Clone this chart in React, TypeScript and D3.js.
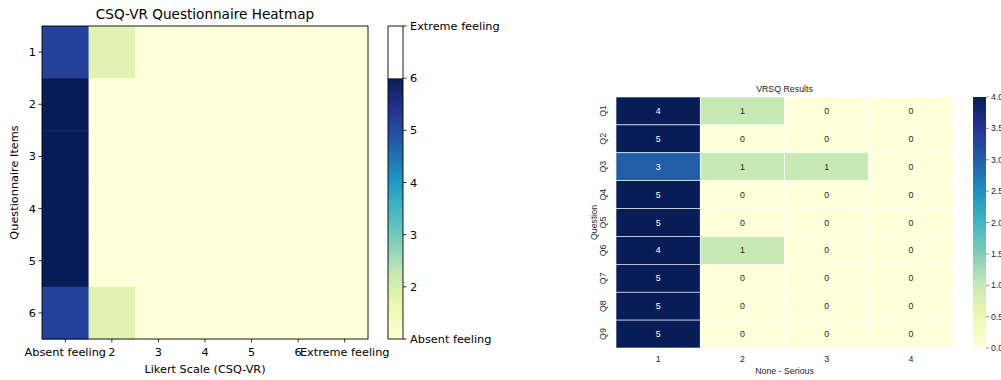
import React from "react";
import * as d3 from "d3";

// ---------- Data ----------
const csqItems = ["1", "2", "3", "4", "5", "6"];
const csqScale = ["Absent feeling", "2", "3", "4", "5", "6", "Extreme feeling"];
const csqValues: number[][] = [
  [5, 1, 0, 0, 0, 0, 0],
  [6, 0, 0, 0, 0, 0, 0],
  [6, 0, 0, 0, 0, 0, 0],
  [6, 0, 0, 0, 0, 0, 0],
  [6, 0, 0, 0, 0, 0, 0],
  [5, 1, 0, 0, 0, 0, 0],
];
const csqCbarLabels = ["Absent feeling", "2", "3", "4", "5", "6", "Extreme feeling"];

const vrsqQuestions = ["Q1", "Q2", "Q3", "Q4", "Q5", "Q6", "Q7", "Q8", "Q9"];
const vrsqScale = ["1", "2", "3", "4"];
const vrsqValues: number[][] = [
  [4, 1, 0, 0],
  [5, 0, 0, 0],
  [3, 1, 1, 0],
  [5, 0, 0, 0],
  [5, 0, 0, 0],
  [4, 1, 0, 0],
  [5, 0, 0, 0],
  [5, 0, 0, 0],
  [5, 0, 0, 0],
];
const vrsqCbarTicks = [0, 0.5, 1, 1.5, 2, 2.5, 3, 3.5, 4];

// matplotlib YlGnBu (colorbrewer 9-class, linear)
const ylgnbu = ["#ffffd9", "#edf8b1", "#c7e9b4", "#7fcdbb", "#41b6c4", "#1d91c0", "#225ea8", "#253494", "#081d58"];
const cmap = d3
  .scaleLinear<string>()
  .domain(d3.range(9).map((i) => i / 8))
  .range(ylgnbu)
  .interpolate(d3.interpolateRgb)
  .clamp(true);

const LEFT_FONT = "DejaVu Sans, sans-serif";
const RIGHT_FONT = "Liberation Sans, Arial, sans-serif";

function LeftChart() {
  const x0 = 42, x1 = 368, y0 = 26, y1 = 339;
  const x = d3.scaleBand<string>().domain(csqScale).range([x0, x1]);
  const y = d3.scaleBand<string>().domain(csqItems).range([y0, y1]);
  const color = d3.scaleLinear().domain([0, 6]).range([0, 1]);
  const cbX0 = 388, cbX1 = 403;
  const cb = d3.scaleLinear().domain([0, 6]).range([y1, y0]);
  const tickFs = 11.3;
  const stops = d3.range(0, 1.0001, 0.125);
  return (
    <g fontFamily={LEFT_FONT} fill="#000">
      <defs>
        <linearGradient id="gradL" x1="0" y1="1" x2="0" y2="0">
          {stops.map((s) => (
            <stop key={s} offset={s} stopColor={cmap(s)} />
          ))}
        </linearGradient>
      </defs>
      {csqValues.map((row, i) =>
        row.map((v, j) => (
          <rect
            key={`${i}-${j}`}
            x={x(csqScale[j])!}
            y={y(csqItems[i])!}
            width={x.bandwidth() + 0.5}
            height={y.bandwidth() + 0.5}
            fill={cmap(color(v))}
          />
        ))
      )}
      <rect x={x0} y={y0} width={x1 - x0} height={y1 - y0} fill="none" stroke="#000" strokeWidth={0.9} />
      {csqScale.map((s) => {
        const cx = x(s)! + x.bandwidth() / 2;
        return (
          <g key={s}>
            <line x1={cx} x2={cx} y1={y1} y2={y1 + 3.5} stroke="#000" strokeWidth={0.8} />
            <text x={cx} y={y1 + 17} fontSize={tickFs} textAnchor="middle">{s}</text>
          </g>
        );
      })}
      {csqItems.map((s) => {
        const cy = y(s)! + y.bandwidth() / 2;
        return (
          <g key={s}>
            <line x1={x0 - 3.5} x2={x0} y1={cy} y2={cy} stroke="#000" strokeWidth={0.8} />
            <text x={x0 - 6} y={cy + 4} fontSize={tickFs} textAnchor="end">{s}</text>
          </g>
        );
      })}
      <text x={(x0 + x1) / 2} y={19} fontSize={13.6} textAnchor="middle">CSQ-VR Questionnaire Heatmap</text>
      <text x={(x0 + x1) / 2} y={373} fontSize={tickFs} textAnchor="middle">Likert Scale (CSQ-VR)</text>
      <text transform={`translate(18,${(y0 + y1) / 2}) rotate(-90)`} fontSize={tickFs} textAnchor="middle">Questionnaire Items</text>
      {/* colorbar */}
      <rect x={cbX0} y={cb(5)} width={cbX1 - cbX0} height={cb(0) - cb(5)} fill="url(#gradL)" />
      <rect x={cbX0} y={cb(6)} width={cbX1 - cbX0} height={cb(5) - cb(6)} fill="#fff" />
      <rect x={cbX0} y={y0} width={cbX1 - cbX0} height={y1 - y0} fill="none" stroke="#000" strokeWidth={0.9} />
      {csqCbarLabels.map((l, i) => (
        <g key={l}>
          <line x1={cbX1} x2={cbX1 + 3.5} y1={cb(i)} y2={cb(i)} stroke="#000" strokeWidth={0.8} />
          <text x={cbX1 + 7} y={cb(i) + 4} fontSize={tickFs}>{l}</text>
        </g>
      ))}
    </g>
  );
}

function RightChart() {
  const x0 = 616, x1 = 953, y0 = 97, y1 = 348;
  const x = d3.scaleBand<string>().domain(vrsqScale).range([x0, x1]);
  const y = d3.scaleBand<string>().domain(vrsqQuestions).range([y0, y1]);
  const color = d3.scaleLinear().domain([0, 4]).range([0, 1]).clamp(true);
  const cbX0 = 973, cbX1 = 986;
  const cb = d3.scaleLinear().domain([0, 4]).range([y1, y0]);
  const fs = 8.8;
  const textCol = "#262626";
  const stops = d3.range(0, 1.0001, 0.125);
  return (
    <g fontFamily={RIGHT_FONT} fill={textCol}>
      <defs>
        <linearGradient id="gradR" x1="0" y1="1" x2="0" y2="0">
          {stops.map((s) => (
            <stop key={s} offset={s} stopColor={cmap(s)} />
          ))}
        </linearGradient>
      </defs>
      {vrsqValues.map((row, i) =>
        row.map((v, j) => {
          const t = color(v);
          const cx = x(vrsqScale[j])! + x.bandwidth() / 2;
          const cy = y(vrsqQuestions[i])! + y.bandwidth() / 2;
          return (
            <g key={`${i}-${j}`}>
              <rect
                x={x(vrsqScale[j])!}
                y={y(vrsqQuestions[i])!}
                width={x.bandwidth()}
                height={y.bandwidth()}
                fill={cmap(t)}
                stroke="#fff"
                strokeWidth={0.6}
              />
              <text x={cx} y={cy + 3.1} fontSize={fs} textAnchor="middle" fill={t > 0.5 ? "#fff" : textCol}>{v}</text>
            </g>
          );
        })
      )}
      {vrsqScale.map((s) => (
        <text key={s} x={x(s)! + x.bandwidth() / 2} y={362} fontSize={fs} textAnchor="middle" fill={textCol}>{s}</text>
      ))}
      {vrsqQuestions.map((s) => (
        <text key={s} transform={`translate(606,${y(s)! + y.bandwidth() / 2}) rotate(-90)`} fontSize={fs} textAnchor="middle" fill={textCol}>{s}</text>
      ))}
      <text x={(x0 + x1) / 2} y={92} fontSize={fs} textAnchor="middle" fill={textCol}>VRSQ Results</text>
      <text x={(x0 + x1) / 2} y={374} fontSize={fs} textAnchor="middle" fill={textCol}>None - Serious</text>
      <text transform={`translate(597,${(y0 + y1) / 2}) rotate(-90)`} fontSize={fs} textAnchor="middle" fill={textCol}>Question</text>
      <rect x={cbX0} y={y0} width={cbX1 - cbX0} height={y1 - y0} fill="url(#gradR)" />
      {vrsqCbarTicks.map((t) => (
        <g key={t}>
          <line x1={cbX1} x2={cbX1 + 3} y1={cb(t)} y2={cb(t)} stroke="#444" strokeWidth={0.6} />
          <text x={cbX1 + 5} y={cb(t) + 3.1} fontSize={fs} fill={textCol}>{t.toFixed(1)}</text>
        </g>
      ))}
    </g>
  );
}

export default function App() {
  return (
    <svg
      width={1001}
      height={380}
      viewBox="0 0 1001 380"
      style={{ position: "absolute", left: 0, top: 0, background: "#fff" }}
    >
      <rect width={1001} height={380} fill="#fff" />
      <LeftChart />
      <RightChart />
    </svg>
  );
}
